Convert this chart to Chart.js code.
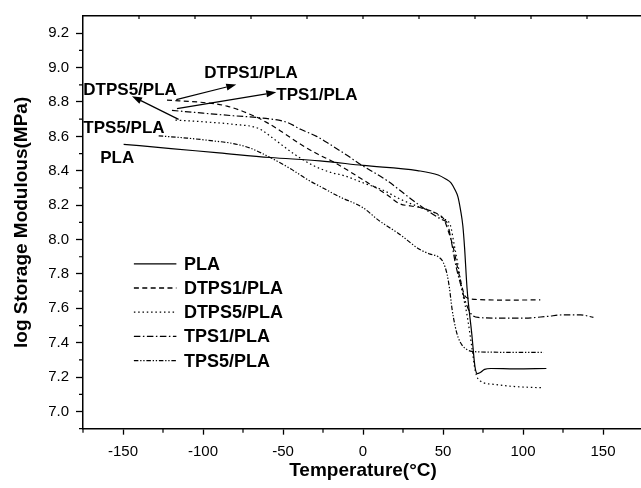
<!DOCTYPE html>
<html><head><meta charset="utf-8">
<script src="https://cdn.jsdelivr.net/npm/chart.js@4.4.0/dist/chart.umd.min.js"></script>
<style>html,body{margin:0;padding:0;overflow:hidden;background:#fff;} #wrap{width:643px;height:488px;}</style>
</head><body><div id="wrap"><canvas id="c" width="643" height="488"></canvas></div>
<script>
// ---- data ----
const seriesNames = ['PLA', 'DTPS1/PLA', 'DTPS5/PLA', 'TPS1/PLA', 'TPS5/PLA'];

const plaT = [-149.6, -120, -90, -58, -27, 0, 34, 47, 52, 55, 57.5, 59.3, 61, 62.4, 63.5, 65, 68, 70, 71.5, 73, 76, 80, 95, 114.6];
const plaE = [8.554, 8.529, 8.504, 8.477, 8.458, 8.431, 8.401, 8.375, 8.35, 8.33, 8.29, 8.25, 8.17, 8.08, 7.95, 7.72, 7.45, 7.26, 7.22, 7.225, 7.245, 7.25, 7.248, 7.25];

const dtps1T = [-122.5, -100, -85, -68.5, -60, -50, -39, -29, -18, 2.5, 15, 23, 30, 36, 44, 48.3, 50.4, 53.5, 56.6, 58.75, 61, 63.5, 66, 70, 90, 110.8];
const dtps1E = [8.811, 8.797, 8.776, 8.72, 8.68, 8.622, 8.554, 8.50, 8.449, 8.333, 8.26, 8.208, 8.195, 8.185, 8.16, 8.14, 8.121, 8.044, 7.947, 7.851, 7.76, 7.675, 7.658, 7.652, 7.648, 7.649];

const dtps5T = [-117.2, -100, -81, -65, -55, -43, -31, -20, -12, 0, 13, 23, 35, 44, 50.4, 54.6, 57, 59.75, 62, 65, 68.1, 70.2, 73.3, 81.6, 95, 112];
const dtps5E = [8.695, 8.685, 8.67, 8.645, 8.58, 8.497, 8.43, 8.39, 8.372, 8.33, 8.285, 8.236, 8.19, 8.16, 8.121, 8.083, 7.97, 7.832, 7.70, 7.562, 7.369, 7.235, 7.177, 7.158, 7.145, 7.138];

const tps1T = [-119.4, -100, -81, -64, -47, -39, -29, -22.5, -10, -2, 15, 30, 40, 50.4, 52.5, 55, 58, 61, 64, 67, 72, 85, 100, 115, 125, 136, 144];
const tps1E = [8.751, 8.735, 8.72, 8.708, 8.68, 8.641, 8.60, 8.564, 8.49, 8.439, 8.343, 8.236, 8.169, 8.112, 8.10, 8.0, 7.85, 7.74, 7.64, 7.575, 7.547, 7.543, 7.543, 7.553, 7.562, 7.562, 7.547];

const tps5T = [-127.7, -110, -95, -81, -70, -58, -45, -35, -25, -15, 0, 10, 23, 35, 42, 47, 50, 52.5, 54, 55.6, 57.5, 59.5, 62, 65, 68, 80, 100, 113];
const tps5E = [8.603, 8.59, 8.575, 8.558, 8.53, 8.477, 8.41, 8.35, 8.30, 8.25, 8.185, 8.11, 8.03, 7.945, 7.915, 7.90, 7.87, 7.80, 7.72, 7.60, 7.50, 7.43, 7.385, 7.36, 7.35, 7.345, 7.344, 7.344];

// ---- tick labels ----
const xTicks = [-150, -100, -50, 0, 50, 100, 150];
const xMinor = [-175, -125, -75, -25, 25, 75, 125, 175];
const topTicks = [-140, -105, -70, -35, 0, 35, 70, 105, 140];
const yTicks = [7.0, 7.2, 7.4, 7.6, 7.8, 8.0, 8.2, 8.4, 8.6, 8.8, 9.0, 9.2];
const yMinor = [6.9, 7.1, 7.3, 7.5, 7.7, 7.9, 8.1, 8.3, 8.5, 8.7, 8.9, 9.1];

// ---- in-plot labels and arrows (data coordinates) ----
const noteText = ['DTPS1/PLA', 'TPS1/PLA', 'DTPS5/PLA', 'TPS5/PLA', 'PLA'];
const noteT = [-99.2, -54.2, -174.8, -174.8, -164.2];
const noteE = [8.975, 8.847, 8.876, 8.654, 8.48];
const arrowFromT = [-116.7, -116.25, -115.25];
const arrowFromE = [8.814, 8.761, 8.699];
const arrowToT = [-79.2, -54.2, -144.4];
const arrowToE = [8.901, 8.857, 8.834];
const legendT = -143.2, legendE = 7.859;

const FONT = "'Liberation Sans', Arial, Helvetica, sans-serif";
const zip = (a, b) => a.map((v, i) => ({x: v, y: b[i]}));
const dashes = [[], [5, 3.4], [1.5, 2.8], [6.5, 2.5, 1.5, 2.5], [4.5, 1.8, 1.3, 1.8, 1.3, 1.8]];
const allData = [zip(plaT, plaE), zip(dtps1T, dtps1E), zip(dtps5T, dtps5E), zip(tps1T, tps1E), zip(tps5T, tps5E)];

const decor = {
  id: 'decor',
  afterDraw(chart) {
    const ctx = chart.ctx, xs = chart.scales.x, ys = chart.scales.y, ca = chart.chartArea;
    ctx.save();
    ctx.strokeStyle = '#000'; ctx.lineWidth = 1.2; ctx.setLineDash([]);
    // minor ticks
    ctx.beginPath();
    xMinor.forEach(v => { const px = xs.getPixelForValue(v); ctx.moveTo(px, ca.bottom); ctx.lineTo(px, ca.bottom + 4); });
    yMinor.forEach(v => { const py = ys.getPixelForValue(v); ctx.moveTo(ca.left, py); ctx.lineTo(ca.left - 4, py); });
    topTicks.forEach(v => { const px = chart.scales.x2.getPixelForValue(v); ctx.moveTo(px, ca.top); ctx.lineTo(px, ca.top + 3); });
    ctx.stroke();
    // legend
    ctx.fillStyle = '#000';
    ctx.font = 'bold 18px ' + FONT;
    ctx.textBaseline = 'middle'; ctx.textAlign = 'left';
    const lx = xs.getPixelForValue(legendT), ly = ys.getPixelForValue(legendE);
    chart.data.datasets.forEach((ds, i) => {
      const y = ly + i * 24.2;
      ctx.lineWidth = 1.3;
      ctx.setLineDash(ds.borderDash || []);
      ctx.beginPath(); ctx.moveTo(lx, y); ctx.lineTo(lx + 42.5, y); ctx.stroke();
      ctx.setLineDash([]);
      ctx.fillText(ds.label, lx + 50, y + 1);
    });
    // notes
    ctx.font = 'bold 17px ' + FONT;
    noteText.forEach((t, i) => ctx.fillText(t, xs.getPixelForValue(noteT[i]), ys.getPixelForValue(noteE[i]) + 1));
    // arrows
    ctx.lineWidth = 1.2;
    arrowFromT.forEach((t, i) => {
      const x1 = xs.getPixelForValue(t), y1 = ys.getPixelForValue(arrowFromE[i]);
      const x2 = xs.getPixelForValue(arrowToT[i]), y2 = ys.getPixelForValue(arrowToE[i]);
      const a = Math.atan2(y2 - y1, x2 - x1), L = 10, W = 3.5;
      const bx = x2 - L * Math.cos(a), by = y2 - L * Math.sin(a);
      ctx.beginPath(); ctx.moveTo(x1, y1); ctx.lineTo(bx, by); ctx.stroke();
      ctx.beginPath();
      ctx.moveTo(x2, y2);
      ctx.lineTo(bx + W * Math.sin(a), by - W * Math.cos(a));
      ctx.lineTo(bx - W * Math.sin(a), by + W * Math.cos(a));
      ctx.closePath(); ctx.fill();
    });
    ctx.restore();
  }
};

new Chart(document.getElementById('c'), {
  type: 'line',
  data: {
    datasets: seriesNames.map((n, i) => ({
      label: n, data: allData[i], borderColor: '#000', borderWidth: 1.2,
      borderDash: dashes[i], pointRadius: 0, fill: false,
      cubicInterpolationMode: 'monotone'
    }))
  },
  options: {
    responsive: false, animation: false, events: [],
    layout: {padding: 0},
    plugins: {legend: {display: false}, tooltip: {enabled: false}},
    scales: {
      x: {
        type: 'linear', position: 'bottom', min: -175, max: 175,
        afterBuildTicks: s => { s.ticks = xTicks.map(v => ({value: v})); },
        afterFit: s => { s.height = 59.3; },
        ticks: {color: '#000', font: {size: 15, family: FONT}, padding: 8, maxRotation: 0, autoSkip: false},
        grid: {drawOnChartArea: false, tickLength: 6, tickColor: '#000', tickWidth: 1.3},
        border: {display: true, color: '#000', width: 1.5},
        title: {display: true, text: 'Temperature(°C)', color: '#000', font: {size: 19, weight: 'bold', family: FONT}, padding: {top: 0, bottom: 6}}
      },
      x2: {
        type: 'linear', position: 'top', min: -175, max: 175,
        afterBuildTicks: s => { s.ticks = topTicks.map(v => ({value: v})); },
        afterFit: s => { s.height = 12.7; },
        ticks: {display: false},
        grid: {display: false, drawTicks: false},
        border: {display: true, color: '#000', width: 1.5}
      },
      y: {
        type: 'linear', min: 6.9, max: 9.3,
        afterBuildTicks: s => { s.ticks = yTicks.map(v => ({value: v})); },
        afterFit: s => { s.width = 83; },
        ticks: {color: '#000', font: {size: 15, family: FONT}, padding: 7, callback: v => v.toFixed(1)},
        grid: {drawOnChartArea: false, tickLength: 7, tickColor: '#000', tickWidth: 1.3},
        border: {display: true, color: '#000', width: 1.5},
        title: {display: true, text: 'log Storage Modulous(MPa)', color: '#000', font: {size: 19, weight: 'bold', family: FONT}, padding: {top: 10, bottom: 0}}
      }
    }
  },
  plugins: [decor]
});
</script></body></html>
